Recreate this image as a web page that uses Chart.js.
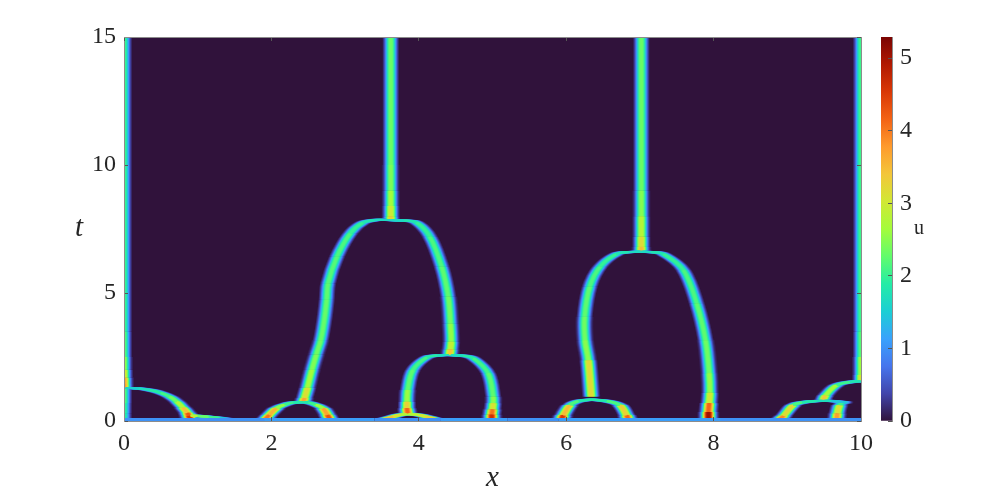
<!DOCTYPE html>
<html>
<head>
<meta charset="utf-8">
<title>u(x,t)</title>
<script src="https://cdn.jsdelivr.net/npm/chart.js@4"></script>
<style>
    html, body { margin: 0; background: #fff; }
    canvas { position: absolute; top: 0; }
    #mainChart { left: 0; }
    #barChart { left: 860px; }
    .label { position: absolute; font-family: "Liberation Serif", serif; color: #262626; line-height: 1; }
    #tLabel { left: 75px; top: 212px; font-size: 29px; font-style: italic; }
    #uLabel { left: 914px; top: 217px; font-size: 20px; }
</style>
</head>
<body>
<canvas id="mainChart" width="997" height="500"></canvas>
<canvas id="barChart" width="137" height="500"></canvas>
<div class="label" id="tLabel">t</div>
<div class="label" id="uLabel">u</div>
<script>
// Ticks
const xTicks = [0, 2, 4, 6, 8, 10];
const tTicks = [0, 5, 10, 15];
const uTicks = [0, 1, 2, 3, 4, 5];
const uMax = 5.29;

// Crestas: posición x, tiempo t, valor u en la cresta
const leftTopX = [0, 0, 0, 0, 0, 0, 0];
const leftTopT = [1.3, 1.45, 1.7, 2.0, 2.5, 3.5, 15];
const leftTopU = [3.6, 4.0, 3.4, 2.8, 2.3, 2.1, 2.0];

const leftLowX = [0, 0, 0, 0];
const leftLowT = [0, 0.3, 0.7, 1.25];
const leftLowU = [1.8, 2.0, 2.0, 2.4];

const arcAX = [0.02, 0.2, 0.35, 0.5, 0.62, 0.72, 0.8, 0.86, 0.88, 0.9];
const arcAT = [1.29, 1.27, 1.21, 1.1, 0.95, 0.75, 0.52, 0.32, 0.2, 0.08];
const arcAU = [1.5, 1.6, 1.8, 2.0, 2.2, 2.5, 3.0, 3.9, 4.6, 4.6];

const tailAX = [0.9, 1.0, 1.15, 1.3, 1.45];
const tailAT = [0.2, 0.2, 0.16, 0.12, 0.06];
const tailAU = [3.4, 2.3, 2.3, 1.8, 1.2];

const archBLeftX = [1.92, 1.97, 2.07, 2.18, 2.3, 2.43];
const archBLeftT = [0.08, 0.24, 0.5, 0.64, 0.72, 0.74];
const archBLeftU = [3.9, 4.2, 2.9, 2.2, 1.9, 1.8];

const archBRightX = [2.79, 2.76, 2.7, 2.6, 2.5, 2.43];
const archBRightT = [0.08, 0.24, 0.5, 0.64, 0.72, 0.74];
const archBRightU = [4.2, 4.4, 3.0, 2.2, 1.9, 1.8];

const bigLeftX = [2.43, 2.45, 2.49, 2.55, 2.61, 2.67, 2.72, 2.75, 2.77, 2.89, 3.07, 3.24, 3.4, 3.61];
const bigLeftT = [0.74, 0.9, 1.3, 2.0, 2.6, 3.16, 4.0, 4.73, 5.38, 6.42, 7.33, 7.75, 7.85, 7.85];
const bigLeftU = [3.9, 3.5, 2.8, 2.5, 2.4, 2.3, 2.3, 2.3, 2.2, 2.2, 2.1, 1.9, 1.7, 1.6];

const bigRightX = [3.61, 3.8, 3.97, 4.15, 4.31, 4.4, 4.43, 4.44, 4.43, 4.42];
const bigRightT = [7.85, 7.83, 7.75, 7.2, 6.03, 4.86, 3.8, 3.1, 2.8, 2.58];
const bigRightU = [1.6, 1.7, 1.9, 2.1, 2.2, 2.3, 2.4, 2.7, 3.1, 3.7];

const stemCX = [3.62, 3.62, 3.62, 3.62, 3.62, 3.62];
const stemCT = [7.85, 8.0, 8.4, 9, 10, 15];
const stemCU = [3.4, 3.2, 2.8, 2.5, 2.35, 2.3];

const archDLeftX = [4.42, 4.25, 4.11, 3.92, 3.85, 3.84, 3.84, 3.85];
const archDLeftT = [2.58, 2.56, 2.49, 1.99, 1.21, 0.75, 0.5, 0.3];
const archDLeftU = [1.6, 1.8, 2.0, 2.2, 2.3, 2.9, 3.7, 4.6];

const archDRightX = [4.42, 4.6, 4.74, 4.94, 5.01, 5.01, 5.0, 4.99, 4.99];
const archDRightT = [2.58, 2.55, 2.45, 1.87, 0.95, 0.7, 0.45, 0.25, 0.08];
const archDRightU = [1.6, 1.8, 2.0, 2.2, 2.3, 2.7, 3.5, 4.6, 4.7];

const smallLeftX = [3.54, 3.65, 3.75, 3.85];
const smallLeftT = [0.08, 0.17, 0.24, 0.27];
const smallLeftU = [3.3, 3.7, 2.6, 3.0];

const smallRightX = [4.22, 4.1, 3.98, 3.85];
const smallRightT = [0.08, 0.17, 0.24, 0.27];
const smallRightU = [3.1, 3.5, 2.6, 3.0];

const archELeftX = [5.94, 5.96, 6.05, 6.17, 6.34];
const archELeftT = [0.08, 0.22, 0.62, 0.78, 0.84];
const archELeftU = [4.5, 4.6, 2.4, 1.9, 1.8];

const archERightX = [6.84, 6.82, 6.73, 6.55, 6.34];
const archERightT = [0.08, 0.22, 0.62, 0.78, 0.84];
const archERightU = [4.1, 4.2, 2.4, 1.9, 1.8];

const big2LeftX = [6.34, 6.3, 6.255, 6.25, 6.32, 6.46, 6.68, 6.85, 7.01];
const big2LeftT = [0.95, 2.38, 3.16, 4.07, 5.25, 6.03, 6.52, 6.6, 6.62];
const big2LeftU = [3.8, 2.6, 2.4, 2.3, 2.2, 2.1, 1.9, 1.7, 1.6];

const big2RightX = [7.01, 7.15, 7.32, 7.59, 7.77, 7.89, 7.94, 7.95, 7.94, 7.93, 7.93];
const big2RightT = [6.62, 6.6, 6.52, 5.9, 4.6, 3.16, 1.87, 1.1, 0.7, 0.35, 0.08];
const big2RightU = [1.6, 1.7, 1.9, 2.1, 2.2, 2.3, 2.4, 2.7, 3.4, 4.9, 5.2];

const stemFX = [7.02, 7.02, 7.02, 7.02, 7.02, 7.02];
const stemFT = [6.62, 6.8, 7.2, 8, 9, 15];
const stemFU = [3.6, 3.4, 3.0, 2.6, 2.35, 2.3];

const archGX = [8.9, 8.95, 9.08, 9.2, 9.4, 9.6, 9.8];
const archGT = [0.08, 0.2, 0.62, 0.72, 0.78, 0.78, 0.72];
const archGU = [3.8, 4.0, 2.4, 1.9, 1.8, 1.6, 1.3];

const stemHX = [9.67, 9.68, 9.71, 9.76];
const stemHT = [0.08, 0.3, 0.62, 0.74];
const stemHU = [3.6, 3.9, 2.4, 1.7];

const archIX = [9.48, 9.52, 9.67, 9.85, 10.02];
const archIT = [0.78, 1.0, 1.4, 1.52, 1.56];
const archIU = [3.7, 3.0, 2.3, 1.8, 1.8];

const rightEdgeX = [10, 10, 10, 10, 10];
const rightEdgeT = [1.56, 1.8, 2.5, 3.5, 15];
const rightEdgeU = [3.2, 2.9, 2.3, 2.1, 2.0];

// Línea de la base (t casi 0)
const baseX = [0, 1.5, 1.9, 2.9, 3.4, 4.3, 4.8, 5.2, 5.9, 6.9, 7.8, 8.1, 8.8, 10];
const baseU = [1.0, 1.0, 1.1, 1.1, 1.0, 1.1, 1.1, 1.0, 1.1, 1.1, 1.1, 1.0, 1.0, 1.0];

const ridges = [
    [leftTopX, leftTopT, leftTopU], [leftLowX, leftLowT, leftLowU],
    [arcAX, arcAT, arcAU], [tailAX, tailAT, tailAU],
    [archBLeftX, archBLeftT, archBLeftU], [archBRightX, archBRightT, archBRightU],
    [bigLeftX, bigLeftT, bigLeftU], [bigRightX, bigRightT, bigRightU], [stemCX, stemCT, stemCU],
    [archDLeftX, archDLeftT, archDLeftU], [archDRightX, archDRightT, archDRightU],
    [smallLeftX, smallLeftT, smallLeftU], [smallRightX, smallRightT, smallRightU],
    [archELeftX, archELeftT, archELeftU], [archERightX, archERightT, archERightU],
    [big2LeftX, big2LeftT, big2LeftU], [big2RightX, big2RightT, big2RightU], [stemFX, stemFT, stemFU],
    [archGX, archGT, archGU], [stemHX, stemHT, stemHU], [archIX, archIT, archIU],
    [rightEdgeX, rightEdgeT, rightEdgeU]
];

// Mapa de color turbo
const turboStops = ['#30123b', '#4145ab', '#4675ed', '#39a2fc', '#1bcfd4', '#24eca6', '#61fc6c', '#a4fc3b',
    '#d1e834', '#f3c63a', '#fe9b2d', '#f36315', '#d93806', '#b11901', '#7a0402'];
const turboRgb = turboStops.map(c => [1, 3, 5].map(i => parseInt(c.slice(i, i + 2), 16)));

function turbo(u) {
    const p = Math.min(Math.max(u / uMax, 0), 1) * (turboRgb.length - 1);
    const i = Math.min(Math.floor(p), turboRgb.length - 2);
    const f = p - i;
    const rgb = turboRgb[i].map((v, k) => Math.round(v + (turboRgb[i + 1][k] - v) * f));
    return `rgb(${rgb.join(',')})`;
}

// Perfil horizontal de la cresta: dx en px
function profile(uc, dx) {
    const w = 4.7 + 0.35 * Math.max(uc - 2, 0);
    return uc * Math.exp(-Math.pow(Math.abs(dx) / w, 2.4));
}

const pxPerX = 73.7;
const maxOffset = 11;
const datasets = [];

ridges.forEach(([xs, ts, us]) => {
    for (let dx = -maxOffset; dx <= maxOffset; dx++) {
        datasets.push({
            data: xs.map((x, i) => ({ x: x + dx / pxPerX, y: ts[i] })),
            showLine: true,
            pointRadius: 0,
            borderWidth: 2,
            borderCapStyle: 'butt',
            tension: 0.35,
            order: Math.abs(dx) + 1,
            segment: {
                borderColor: ctx => {
                    const uc = (us[ctx.p0DataIndex] + us[ctx.p1DataIndex]) / 2;
                    const u = profile(uc, dx);
                    return u < 0.08 ? 'rgba(0,0,0,0)' : turbo(u);
                }
            }
        });
    }
});

datasets.push({
    data: baseX.map(x => ({ x: x, y: 0.04 })),
    showLine: true,
    pointRadius: 0,
    borderWidth: 4,
    order: 0,
    segment: { borderColor: ctx => turbo(baseU[ctx.p0DataIndex]) }
});

const serif = '"Liberation Serif", serif';
const tickFont = { family: serif, size: 24 };
const inkColor = '#262626';
const frameColor = '#8c8c8c';
const tickMark = { drawOnChartArea: false, tickLength: -4, color: '#555', z: 1 };

// Fondo del área de datos
const backgroundPlugin = {
    id: 'plotBackground',
    beforeDatasetsDraw(chart) {
        const a = chart.chartArea;
        chart.ctx.save();
        chart.ctx.fillStyle = turboStops[0];
        chart.ctx.fillRect(a.left, a.top, a.width, a.height);
        chart.ctx.restore();
    }
};

new Chart(document.getElementById('mainChart'), {
    type: 'scatter',
    data: { datasets: datasets },
    plugins: [backgroundPlugin],
    options: {
        responsive: false,
        animation: false,
        events: [],
        layout: { padding: { left: 60, right: 136, top: 37, bottom: 4 } },
        plugins: { legend: { display: false }, tooltip: { enabled: false } },
        scales: {
            x: {
                type: 'linear', min: 0, max: 10,
                afterBuildTicks: axis => { axis.ticks = xTicks.map(v => ({ value: v })); },
                afterFit: axis => { axis.height = 75; },
                grid: tickMark,
                border: { color: frameColor, z: 1 },
                ticks: { font: tickFont, color: inkColor, padding: 12, maxRotation: 0 },
                title: { display: true, text: 'x', color: inkColor, padding: 0,
                    font: { family: serif, size: 29, style: 'italic' } }
            },
            y: {
                type: 'linear', min: 0, max: 15,
                afterBuildTicks: axis => { axis.ticks = tTicks.map(v => ({ value: v })); },
                afterFit: axis => { axis.width = 64; },
                grid: tickMark,
                border: { color: frameColor, z: 1 },
                ticks: { font: tickFont, color: inkColor, padding: 12 }
            },
            xTop: {
                type: 'linear', position: 'top', min: 0, max: 10,
                afterBuildTicks: axis => { axis.ticks = xTicks.map(v => ({ value: v })); },
                afterFit: axis => { axis.height = 0; },
                grid: tickMark,
                border: { color: frameColor, z: 1 },
                ticks: { display: false }
            },
            yRight: {
                type: 'linear', position: 'right', min: 0, max: 15,
                afterBuildTicks: axis => { axis.ticks = tTicks.map(v => ({ value: v })); },
                afterFit: axis => { axis.width = 0; },
                grid: tickMark,
                border: { color: frameColor, z: 1 },
                ticks: { display: false }
            }
        }
    }
});

// Barra de color: una sola barra flotante con degradado
new Chart(document.getElementById('barChart'), {
    type: 'bar',
    data: {
        labels: ['u'],
        datasets: [{
            data: [[0, uMax]],
            barPercentage: 1,
            categoryPercentage: 1,
            backgroundColor: ctx => {
                const a = ctx.chart.chartArea;
                if (!a) return turboStops[0];
                const g = ctx.chart.ctx.createLinearGradient(0, a.bottom, 0, a.top);
                turboStops.forEach((c, i) => g.addColorStop(i / (turboStops.length - 1), c));
                return g;
            }
        }]
    },
    options: {
        responsive: false,
        animation: false,
        events: [],
        layout: { padding: { left: 21, right: 45, top: 37, bottom: 79 } },
        plugins: { legend: { display: false }, tooltip: { enabled: false } },
        scales: {
            x: { display: false },
            y: {
                position: 'right', min: 0, max: uMax,
                afterBuildTicks: axis => { axis.ticks = uTicks.map(v => ({ value: v })); },
                afterFit: axis => { axis.width = 60; },
                grid: tickMark,
                border: { color: frameColor, z: 1 },
                ticks: { font: tickFont, color: inkColor, padding: 12 }
            }
        }
    }
});
</script>
</body>
</html>
